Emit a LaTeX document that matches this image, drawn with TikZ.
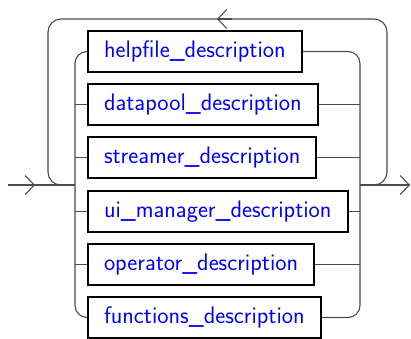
\documentclass[tikz,border=0pt]{standalone}
\usetikzlibrary{arrows.meta}
\begin{document}
\begin{tikzpicture}[x=1pt,y=-1pt,
  rail/.style={draw=black!70,line width=1.1pt},
  term/.style={draw=black,line width=2pt,anchor=west,minimum height=41pt,
    inner xsep=16pt,inner ysep=0pt,text=blue,
    font=\sffamily\fontsize{23.9}{26}\selectfont},
  tip/.style={rail,-{Straight Barb[length=9pt,width=19pt,line width=1.1pt]}}]
\useasboundingbox (0,0) rectangle (411,338);
\begin{scope}
\clip (0,0) rectangle (411,338);
\node[term] (b1) at (87,51.5) {helpfile\_description};
\node[term] (b2) at (87,104.5) {datapool\_description};
\node[term] (b3) at (87,157.5) {streamer\_description};
\node[term] (b4) at (87,211.5) {ui\_manager\_description};
\node[term] (b5) at (87,264.5) {operator\_description};
\node[term] (b6) at (87,317.5) {functions\_description};
\end{scope}
\coordinate (L) at (75,185);
\coordinate (R) at (360,185);
\coordinate (in) at (8,185);
\coordinate (out) at (410,185);
\coordinate (lp) at (48,19);
\coordinate (rp) at (387,19);
% main line
\draw[rail] (in) -- (L);
\draw[rail] (R) -- (out);
\draw[tip] (in) -- (35,185);
\draw[tip] (R) -- (out);
% buses
\draw[rail,rounded corners=12pt] (b1.west) -- (b1.west -| L) -- (b6.west -| L) -- (b6.west);
\draw[rail,rounded corners=12pt] (b1.east) -- (b1.east -| R) -- (b6.east -| R) -- (b6.east);
\foreach \b in {b2,b3,b4,b5}{
  \draw[rail] (\b.west -| L) -- (\b.west);
  \draw[rail] (\b.east) -- (\b.east -| R);
}
% loop back
\draw[rail,rounded corners=13pt] (R) -- (R -| rp) -- (rp) -- (lp) -- (lp |- L) -- (L);
\draw[tip] (rp) ++(-155,0) -- (217,19);
\end{tikzpicture}
\end{document}
